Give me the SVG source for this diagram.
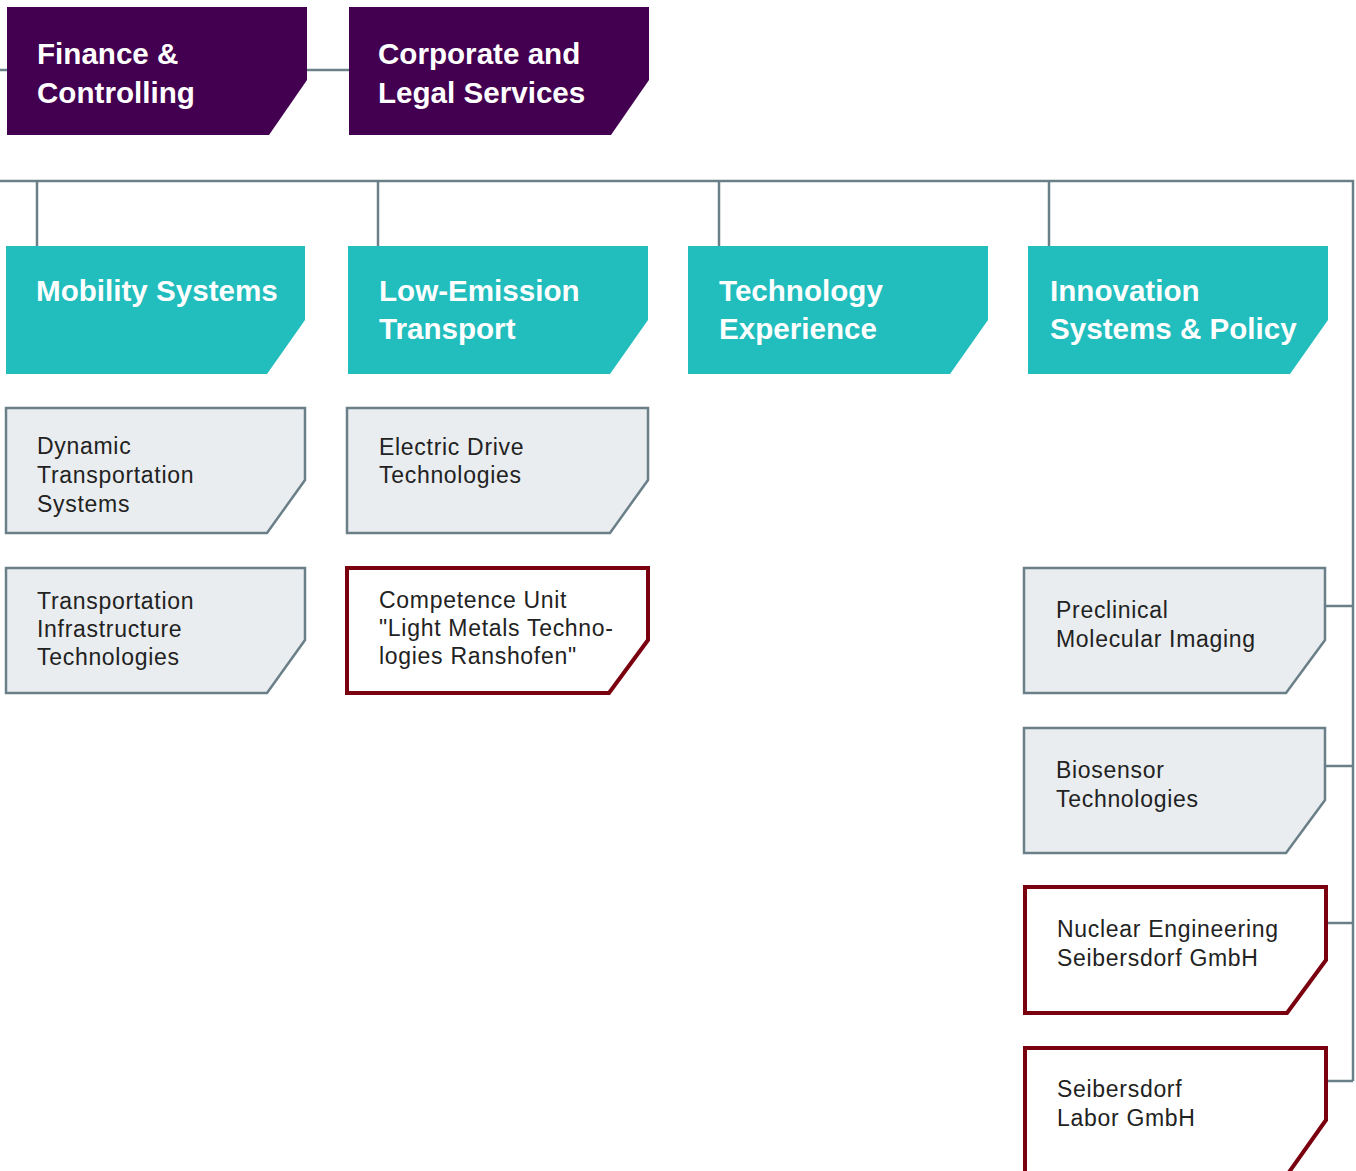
<svg xmlns="http://www.w3.org/2000/svg" width="1356" height="1171" viewBox="0 0 1356 1171">
<style>
.ln{stroke:#6b7f89;stroke-width:2.5;fill:none}
.hd{fill:#430050}
.tl{fill:#22bdbd}
.gr{fill:#e9edf0;stroke:#6b7f89;stroke-width:2.5}
.rd{fill:#ffffff;stroke:#7a0010;stroke-width:4}
.ht{font-family:"Liberation Sans",Arial,sans-serif;font-weight:bold;font-size:29.6px;fill:#ffffff}
.bt{font-family:"Liberation Sans",Arial,sans-serif;font-size:23px;letter-spacing:0.7px;fill:#222222}
</style>
<rect width="1356" height="1171" fill="#ffffff"/>
<g id="connectors">
<path class="ln" d="M0 70H7M307 70H349"/>
<path class="ln" d="M0 181H1353V1081"/>
<path class="ln" d="M37 181V246M378 181V246M719 181V246M1049 181V246"/>
<path class="ln" d="M1325 606H1353M1325 766H1353M1326 923H1353M1326 1081H1353"/>
</g>
<g id="finance"><path class="hd" d="M7 7H307V80L269 135H7Z"/><text class="ht" x="37" y="64">Finance &amp;</text><text class="ht" x="37" y="103">Controlling</text></g>
<g id="corporate"><path class="hd" d="M349 7H649V80L611 135H349Z"/><text class="ht" x="378" y="64">Corporate and</text><text class="ht" x="378" y="103">Legal Services</text></g>
<g id="mobility"><path class="tl" d="M6 246H305V320L267 374H6Z"/><text class="ht" x="36" y="301">Mobility Systems</text></g>
<g id="lowemission"><path class="tl" d="M348 246H648V320L610 374H348Z"/><text class="ht" x="379" y="301">Low-Emission</text><text class="ht" x="379" y="339">Transport</text></g>
<g id="techexp"><path class="tl" d="M688 246H988V320L950 374H688Z"/><text class="ht" x="719" y="301">Technology</text><text class="ht" x="719" y="339">Experience</text></g>
<g id="innovation"><path class="tl" d="M1028 246H1328V320L1290 374H1028Z"/><text class="ht" x="1050" y="301">Innovation</text><text class="ht" x="1050" y="339">Systems &amp; Policy</text></g>
<g id="dynamic"><path class="gr" d="M6 408H305V480L267 533H6Z"/><text class="bt" x="37" y="454">Dynamic</text><text class="bt" x="37" y="483">Transportation</text><text class="bt" x="37" y="512">Systems</text></g>
<g id="infra"><path class="gr" d="M6 568H305V640L267 693H6Z"/><text class="bt" x="37" y="609">Transportation</text><text class="bt" x="37" y="637">Infrastructure</text><text class="bt" x="37" y="665">Technologies</text></g>
<g id="electric"><path class="gr" d="M347 408H648V480L610 533H347Z"/><text class="bt" x="379" y="455">Electric Drive</text><text class="bt" x="379" y="483">Technologies</text></g>
<g id="competence"><path class="rd" d="M347 568H648V640L609 693H347Z"/><text class="bt" x="379" y="608">Competence Unit</text><text class="bt" x="379" y="636">"Light Metals Techno-</text><text class="bt" x="379" y="664">logies Ranshofen"</text></g>
<g id="preclinical"><path class="gr" d="M1024 568H1325V640L1286 693H1024Z"/><text class="bt" x="1056" y="618">Preclinical</text><text class="bt" x="1056" y="647">Molecular Imaging</text></g>
<g id="biosensor"><path class="gr" d="M1024 728H1325V800L1286 853H1024Z"/><text class="bt" x="1056" y="778">Biosensor</text><text class="bt" x="1056" y="807">Technologies</text></g>
<g id="nuclear"><path class="rd" d="M1025 887H1326V960L1287 1013H1025Z"/><text class="bt" x="1057" y="937">Nuclear Engineering</text><text class="bt" x="1057" y="966">Seibersdorf GmbH</text></g>
<g id="labor"><path class="rd" d="M1025 1048H1326V1120L1287 1175H1025Z"/><text class="bt" x="1057" y="1097">Seibersdorf</text><text class="bt" x="1057" y="1126">Labor GmbH</text></g>
</svg>
